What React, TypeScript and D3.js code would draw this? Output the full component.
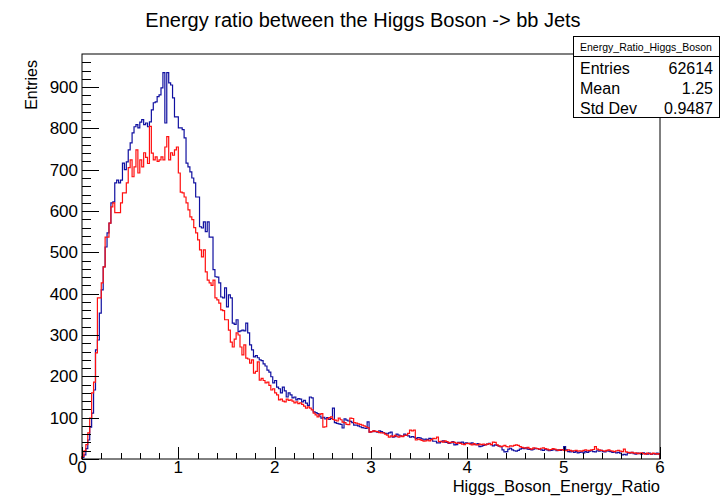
import React, { useEffect, useRef } from 'react';
import * as d3 from 'd3';

// histogram: 300 bins on [0, 6], bin width 0.02
const binWidth = 0.02;
const xDomain = [0, 6];
const yMax = 980;

const blueCounts = [
  4, 10, 25, 46, 77, 111, 167, 264, 288, 353,
  409, 465, 513, 547, 571, 620, 622, 668, 675, 668,
  675, 716, 700, 719, 748, 765, 789, 804, 809, 801,
  815, 821, 809, 813, 804, 816, 845, 862, 864, 877,
  881, 898, 935, 813, 935, 910, 905, 874, 828, 828,
  801, 801, 797, 777, 716, 707, 695, 680, 668, 634,
  634, 562, 559, 574, 550, 574, 537, 537, 458, 441,
  440, 426, 392, 390, 414, 368, 397, 390, 329, 326,
  337, 308, 310, 312, 310, 329, 305, 276, 264, 247,
  250, 245, 240, 238, 230, 225, 215, 210, 199, 184,
  190, 174, 170, 160, 174, 165, 150, 160, 155, 148,
  150, 143, 146, 145, 138, 142, 135, 130, 150, 148,
  114, 112, 110, 104, 99, 101, 97, 100, 96, 98,
  123, 88, 86, 85, 84, 75, 97, 94, 92, 91,
  88, 82, 82, 80, 78, 76, 75, 74, 90, 65,
  66, 68, 66, 65, 68, 66, 64, 62, 61, 63,
  65, 53, 54, 60, 58, 56, 55, 60, 57, 56,
  53, 54, 53, 50, 52, 51, 49, 46, 48, 47,
  50, 49, 43, 43, 39, 39, 42, 44, 41, 40,
  38, 39, 42, 34, 35, 40, 40, 41, 38, 39,
  38, 38, 39, 36, 35, 37, 30, 31, 33, 35,
  36, 38, 35, 32, 34, 33, 31, 30, 22, 17,
  18, 24, 26, 22, 20, 19, 21, 24, 26, 25,
  27, 24, 23, 22, 24, 26, 25, 23, 22, 21,
  24, 22, 20, 21, 22, 23, 20, 22, 21, 23,
  30, 22, 18, 17, 19, 16, 18, 15, 16, 17,
  15, 18, 16, 19, 20, 18, 17, 20, 19, 21,
  18, 17, 20, 19, 18, 16, 17, 15, 16, 14,
  10, 11, 10, 15, 14, 16, 13, 12, 14, 13,
  12, 15, 13, 12, 14, 11, 13, 12, 14, 12
];

const redCounts = [
  6, 20, 35, 63, 99, 160, 186, 257, 390, 390,
  426, 465, 537, 537, 571, 610, 620, 596, 596, 596,
  620, 644, 644, 668, 705, 724, 683, 707, 748, 692,
  724, 707, 741, 730, 715, 805, 740, 724, 731, 720,
  724, 731, 724, 755, 780, 724, 741, 735, 748, 755,
  692, 646, 644, 634, 620, 603, 586, 579, 560, 547,
  530, 506, 489, 506, 453, 433, 426, 420, 433, 390,
  385, 377, 361, 359, 337, 337, 312, 283, 271, 290,
  305, 300, 271, 252, 276, 244, 242, 232, 240, 208,
  212, 235, 191, 195, 190, 184, 186, 178, 167, 170,
  160, 155, 143, 145, 140, 138, 145, 142, 143, 140,
  136, 138, 134, 136, 132, 128, 123, 126, 123, 119,
  111, 107, 102, 108, 110, 77, 78, 97, 100, 102,
  96, 94, 92, 99, 95, 89, 88, 84, 83, 99,
  98, 88, 87, 85, 84, 82, 80, 78, 76, 65,
  66, 68, 67, 66, 64, 63, 63, 60, 58, 53,
  56, 54, 57, 55, 53, 56, 54, 57, 58, 62,
  70, 68, 70, 46, 48, 47, 45, 43, 44, 46,
  44, 47, 50, 49, 53, 42, 43, 41, 44, 42,
  39, 40, 41, 40, 38, 39, 38, 36, 35, 37,
  38, 36, 34, 37, 35, 34, 36, 35, 36, 34,
  36, 37, 35, 41, 40, 34, 32, 30, 31, 33,
  30, 29, 32, 31, 33, 34, 33, 30, 28, 27,
  26, 28, 25, 24, 27, 26, 25, 24, 26, 27,
  25, 24, 22, 23, 25, 24, 22, 21, 23, 22,
  21, 20, 22, 21, 19, 20, 21, 19, 20, 19,
  21, 22, 20, 21, 22, 23, 30, 24, 22, 21,
  20, 19, 21, 22, 20, 19, 18, 20, 21, 19,
  18, 24, 17, 16, 15, 16, 14, 15, 13, 14,
  15, 13, 12, 14, 13, 12, 14, 13, 12, 13
];

const title = 'Energy ratio between the Higgs Boson -> bb Jets';
const xTitle = 'Higgs_Boson_Energy_Ratio';
const yTitle = 'Entries';
const statsName = 'Energy_Ratio_Higgs_Boson';
const statsRows = [
  ['Entries', '62614'],
  ['Mean', '1.25'],
  ['Std Dev', '0.9487']
];

const FONT = '"Liberation Sans", Arial, Helvetica, sans-serif';

const App = () => {
  const ref = useRef(null);

  useEffect(() => {
    const svg = d3.select(ref.current);
    svg.selectAll('*').remove();

    const frame = { left: 82, right: 660, top: 54, bottom: 459 };
    const x = d3.scaleLinear().domain(xDomain).range([frame.left, frame.right]);
    const y = d3.scaleLinear().domain([0, yMax]).range([frame.bottom, frame.top]);

    svg.append('rect').attr('width', 726).attr('height', 496).attr('fill', '#fff');

    // title
    svg.append('text')
      .attr('x', 363).attr('y', 27)
      .attr('text-anchor', 'middle')
      .attr('font-size', 20)
      .attr('font-family', FONT)
      .text(title);

    // histograms as steps
    const stepPoints = (counts) => {
      const pts = [[0, 0]];
      counts.forEach((c, i) => {
        pts.push([i * binWidth, c]);
        pts.push([(i + 1) * binWidth, c]);
      });
      pts.push([counts.length * binWidth, 0]);
      return pts;
    };
    const line = d3.line().x(d => x(d[0])).y(d => y(d[1]));

    const plot = svg.append('g');
    plot.append('path')
      .attr('d', line(stepPoints(blueCounts)))
      .attr('fill', 'none')
      .attr('stroke', '#1010a0')
      .attr('stroke-width', 1.2);
    plot.append('path')
      .attr('d', line(stepPoints(redCounts)))
      .attr('fill', 'none')
      .attr('stroke', '#ff1010')
      .attr('stroke-width', 1.2);

    // frame
    svg.append('rect')
      .attr('x', frame.left).attr('y', frame.top)
      .attr('width', frame.right - frame.left)
      .attr('height', frame.bottom - frame.top)
      .attr('fill', 'none')
      .attr('stroke', '#000')
      .attr('stroke-width', 1);

    // y axis ticks (inside the frame)
    const yMinor = d3.range(0, yMax, 20);
    svg.append('g').selectAll('line')
      .data(yMinor)
      .enter().append('line')
      .attr('x1', frame.left)
      .attr('x2', d => frame.left + (d % 100 === 0 ? 17 : 9))
      .attr('y1', d => Math.round(y(d)) + 0.5)
      .attr('y2', d => Math.round(y(d)) + 0.5)
      .attr('stroke', '#000');

    svg.append('g').selectAll('text')
      .data(y.ticks(10).filter(d => d <= 900))
      .enter().append('text')
      .attr('x', 78)
      .attr('y', d => y(d) + 6)
      .attr('text-anchor', 'end')
      .attr('font-size', 17)
      .attr('font-family', FONT)
      .text(d => d);

    // x axis ticks
    const xMinor = d3.range(0, 6.001, 0.2);
    svg.append('g').selectAll('line')
      .data(xMinor)
      .enter().append('line')
      .attr('x1', d => Math.round(x(d)) + 0.5)
      .attr('x2', d => Math.round(x(d)) + 0.5)
      .attr('y1', frame.bottom)
      .attr('y2', d => frame.bottom - (Math.abs(d - Math.round(d)) < 1e-6 ? 12 : 6))
      .attr('stroke', '#000');

    svg.append('g').selectAll('text')
      .data(x.ticks(6))
      .enter().append('text')
      .attr('x', d => x(d))
      .attr('y', 473)
      .attr('text-anchor', 'middle')
      .attr('font-size', 17)
      .attr('font-family', FONT)
      .text(d => d);

    // axis titles
    svg.append('text')
      .attr('x', frame.right).attr('y', 492)
      .attr('text-anchor', 'end')
      .attr('font-size', 16.5)
      .attr('font-family', FONT)
      .text(xTitle);

    svg.append('text')
      .attr('transform', `translate(37, ${frame.top + 6}) rotate(-90)`)
      .attr('text-anchor', 'end')
      .attr('font-size', 16)
      .attr('font-family', FONT)
      .text(yTitle);

    // stats box
    const box = svg.append('g').attr('transform', 'translate(573, 36)');
    box.append('rect')
      .attr('x', 0.5).attr('y', 0.5)
      .attr('width', 146).attr('height', 81)
      .attr('fill', '#fff')
      .attr('stroke', '#000');
    box.append('line')
      .attr('x1', 0.5).attr('x2', 146.5)
      .attr('y1', 20.5).attr('y2', 20.5)
      .attr('stroke', '#000');
    box.append('text')
      .attr('x', 73).attr('y', 15)
      .attr('text-anchor', 'middle')
      .attr('font-size', 10.5)
      .attr('font-family', FONT)
      .text(statsName);
    statsRows.forEach((r, i) => {
      box.append('text')
        .attr('x', 7).attr('y', 38 + i * 20)
        .attr('font-size', 16)
        .attr('font-family', FONT)
        .text(r[0]);
      box.append('text')
        .attr('x', 140).attr('y', 38 + i * 20)
        .attr('text-anchor', 'end')
        .attr('font-size', 16)
        .attr('font-family', FONT)
        .text(r[1]);
    });
  }, []);

  return (
    <svg
      ref={ref}
      width={726}
      height={496}
      style={{ position: 'absolute', left: 0, top: 0, display: 'block' }}
    />
  );
};

export default App;
